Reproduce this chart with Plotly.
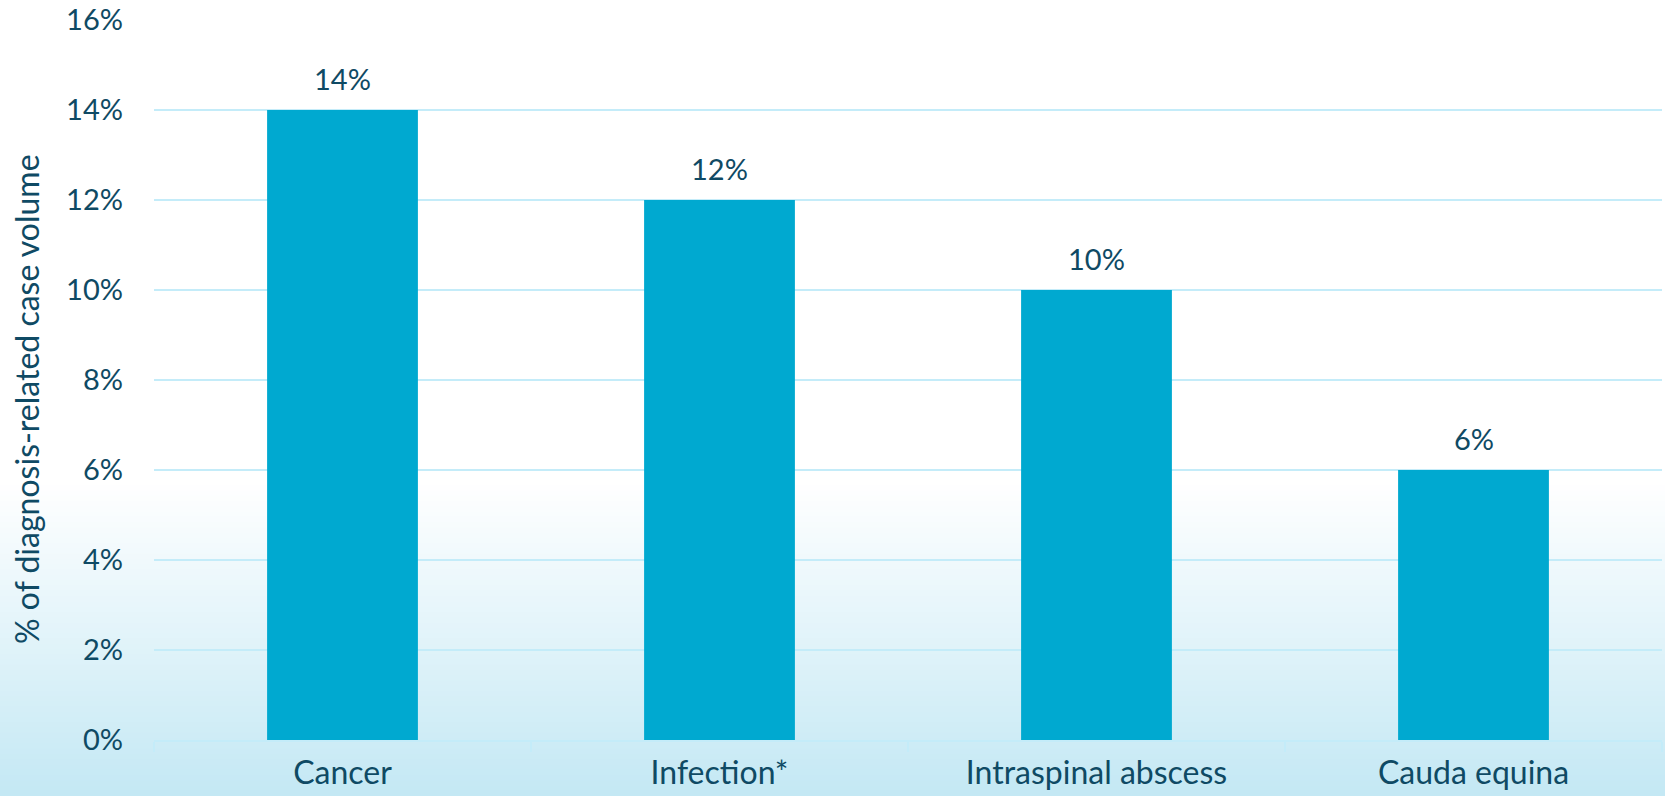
import plotly.graph_objects as go

# Share of diagnosis-related case volume by diagnosis
categories = ["Cancer", "Infection*", "Intraspinal abscess", "Cauda equina"]
values = [14, 12, 10, 6]
y_ticks = [0, 2, 4, 6, 8, 10, 12, 14, 16]
y_tick_labels = [f"{v}%" for v in y_ticks]

W, H = 1665, 796
M_L, M_R, M_T, M_B = 154, 3, 20, 56
PLOT_H = H - M_T - M_B
PLOT_W = W - M_L - M_R

TEXT = "#0f4a64"
BAR = "#00a9d0"
GRID = "#c4ecf9"
NUM_FONT = dict(family="Lato", size=29, color=TEXT)
WORD_FONT = dict(family="Lato", size=32, color=TEXT)

fig = go.Figure(
    go.Bar(
        x=categories,
        y=values,
        width=0.4,
        marker=dict(color=BAR, line=dict(width=0)),
        hoverinfo="skip",
    )
)

# Value labels floated a little above each bar
value_labels = [
    dict(x=c, y=v, xref="x", yref="y", text=f"{v}%", showarrow=False,
         xanchor="center", yanchor="bottom", yshift=12, font=NUM_FONT)
    for c, v in zip(categories, values)
]

# Soft white-to-light-blue wash behind the lower half of the page
def px_to_paper(ypx):
    return (H - M_B - ypx) / PLOT_H

g_top, g_bot = 480, H
steps = 60
top_rgb = (255, 255, 255)
bot_rgb = (196, 232, 244)
shapes = []
for i in range(steps):
    y0 = g_top + (g_bot - g_top) * i / steps
    y1 = g_top + (g_bot - g_top) * (i + 1) / steps + 1
    t = (i + 0.5) / steps
    c = tuple(round(top_rgb[k] + (bot_rgb[k] - top_rgb[k]) * t) for k in range(3))
    shapes.append(dict(
        type="rect", xref="paper", yref="paper", layer="below",
        x0=-M_L / PLOT_W - 0.01, x1=1 + M_R / PLOT_W + 0.01,
        y0=px_to_paper(y1), y1=px_to_paper(y0),
        fillcolor=f"rgb{c}", line=dict(width=0),
    ))

fig.update_layout(
    width=W,
    height=H,
    margin=dict(l=M_L, r=M_R, t=M_T, b=M_B, autoexpand=False),
    paper_bgcolor="white",
    plot_bgcolor="rgba(0,0,0,0)",
    showlegend=False,
    shapes=shapes,
    font=dict(family="Lato", color=TEXT),
    xaxis=dict(
        type="category",
        automargin=False,
        showgrid=False,
        showline=True,
        linecolor=GRID,
        linewidth=2,
        ticks="outside",
        tickson="boundaries",
        ticklen=10,
        tickcolor=GRID,
        tickwidth=2,
        ticklabelstandoff=4,
        tickfont=WORD_FONT,
        fixedrange=True,
    ),
    yaxis=dict(
        range=[0, 16],
        automargin=False,
        tickvals=y_ticks,
        ticktext=y_tick_labels,
        showgrid=True,
        gridcolor=GRID,
        gridwidth=2,
        zeroline=False,
        showline=False,
        ticks="",
        ticklabelstandoff=30,
        tickfont=NUM_FONT,
        fixedrange=True,
    ),
    annotations=value_labels + [dict(
        text="% of diagnosis-related case volume",
        xref="paper", yref="paper",
        x=(26 - M_L) / PLOT_W, y=px_to_paper(399),
        xanchor="center", yanchor="middle",
        textangle=-90, showarrow=False,
        font=WORD_FONT,
    )],
)

fig.write_html("out.html")
